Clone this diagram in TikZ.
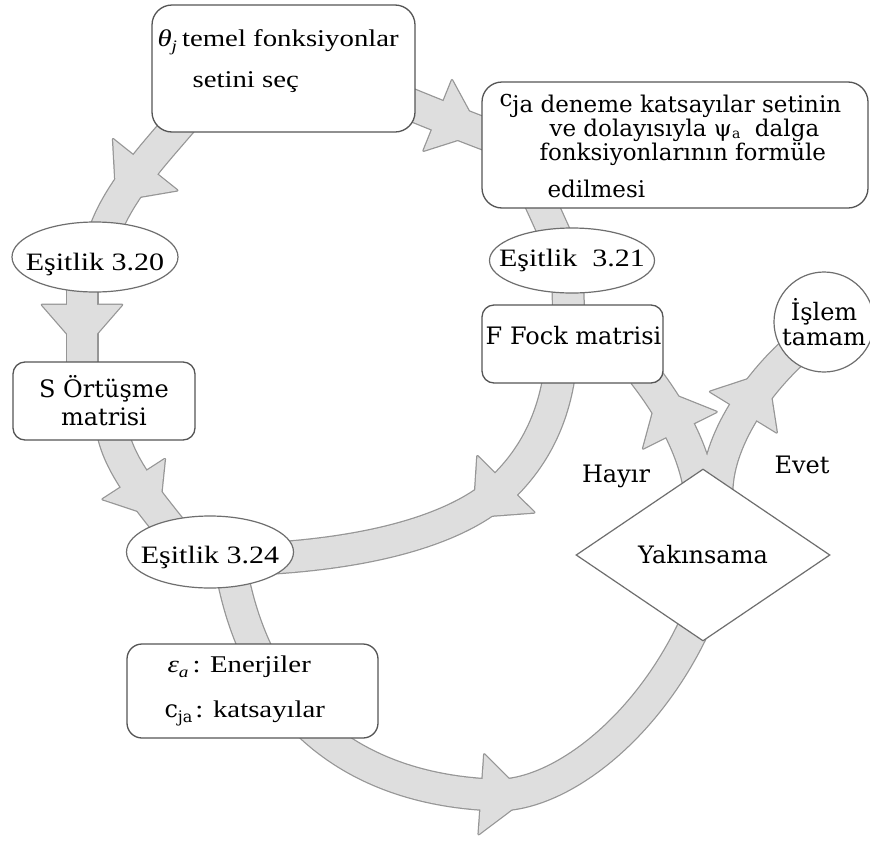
\documentclass[tikz,border=0pt]{standalone}
\usepackage{fontspec}
\setmainfont{Liberation Serif}
\newfontfamily\tnr[FakeStretch=1.2]{Liberation Serif}
\newfontfamily\slab{DejaVu Serif}
\usetikzlibrary{calc,shapes.geometric,backgrounds,decorations.markings}
\definecolor{bandfill}{RGB}{222,222,222}
\definecolor{bandedge}{RGB}{150,150,150}
\definecolor{boxedge}{RGB}{85,85,85}
\definecolor{shapeedge}{RGB}{110,110,110}
\newcommand\lowsub[1]{\raisebox{-5pt}{\fontsize{16}{16}\selectfont #1}}
\newcommand\highsub[1]{\raisebox{-2pt}{\fontsize{14}{14}\selectfont #1}}
\newcommand\bands[2]{%
  % b1 -> e20
  \draw[#1, ahead={0.45}{#2}{41pt}] ($(b1.south west)+(38,-20)$) .. controls (160,148) and (118,190) .. ($(e20.north)+(8,15)$);
  % e20 -> sb
  \draw[#1, ahead={0.24}{#2}{40pt}] ($(e20.south)+(-13,-12)$) -- ($(sb.north)+(-22,20)$);
  % sb -> e24
  \draw[#1, ahead={0.42}{#2}{37pt}] ($(sb.south)+(8,-12)$) .. controls (118,465) and (148,500) .. ($(e24)+(-30,-12)$);
  % fb -> e24
  \draw[#1, ahead={0.30}{#2}{40pt}] ($(fb.south)+(-13,-10)$) .. controls (552,425) and (530,462) .. (500,490) .. controls (472,516) and (400,556) .. ($(e24)+(20,8)$);
  % e24 -> dm
  \draw[#1, ahead={0.54}{#2}{40pt}] ($(e24.south)+(22,-15)$) .. controls (260,720) and (360,790) .. (495,795) .. controls (560,797) and (655,725) .. ($(dm.south)+(0,-35)$);
  % dm -> fb (Hayir)
  \draw[#1, ahead={0.47}{#2}{41pt}] ($(dm.north)+(-4,18)$) .. controls (692,445) and (668,405) .. ($(fb.south east)+(-20,-10)$);
  % dm -> ci (Evet)
  \draw[#1, ahead={0.5}{#2}{39pt}] ($(dm.north)+(14,26)$) .. controls (716,440) and (760,380) .. ($(ci.south west)+(12,-12)$);
  % b1 -> b2
  \draw[#1, ahead={0.4}{#2}{38pt}] ($(b1.east)+(-20,30)$) .. controls (420,108) and (460,125) .. ($(b2.west)+(20,-5)$);
  % b2 -> e21
  \draw[#1] ($(b2.south west)+(55,-15)$) .. controls (545,212) and (552,228) .. ($(e21.north)+(-12,18)$);
  % e21 -> fb
  \draw[#1] ($(e21.south)+(-4,-12)$) -- ($(fb.north)+(-4,15)$);
}
\begin{document}
\begin{tikzpicture}[x=1pt, y=-1pt,
  box/.style={draw=boxedge, line width=1.3pt, fill=white, rounded corners=#1, inner sep=0pt},
  box/.default=12pt,
  ell/.style={ellipse, draw=shapeedge, line width=1.2pt, fill=white, inner sep=0pt, font=\tnr\fontsize{25}{28}\selectfont},
  tt/.style={font=\tnr\fontsize{24}{28}\selectfont, inner sep=0pt},
  st/.style={font=\slab\fontsize{24}{28}\selectfont, inner sep=0pt},
  stc/.style={font=\slab\fontsize{23}{26}\selectfont, inner sep=0pt},
  bandout/.style={draw=bandedge, line width=33pt},
  bandin/.style={draw=bandfill, line width=30.5pt},
  headout/.style={fill=bandedge, draw=bandedge, line width=2.5pt, line join=round},
  headin/.style={fill=bandfill},
  ahead/.style n args={3}{decoration={markings, mark=at position #1 with {\path[#2] (0pt,-#3) -- (46pt,0pt) -- (0pt,#3) -- cycle;}}, postaction={decorate}}
]
\useasboundingbox (0,0) rectangle (870,841);
% shapes
\node[box=20pt, minimum width=263pt, minimum height=127pt] (b1) at (283.5,68.5) {};
\node[box=20pt, minimum width=386pt, minimum height=126pt] (b2) at (675,145) {};
\node[ell, minimum width=166pt, minimum height=70pt, text height=26pt, text depth=0pt] (e20) at (95,257) {\makebox[0pt]{Eşitlik 3.20}};
\node[box, st, minimum width=182pt, minimum height=78pt, align=center] (sb) at (104,401) {S Örtüşme\\matrisi};
\node[ell, minimum width=165pt, minimum height=65pt, text height=12pt, text depth=0pt] (e21) at (572,260.5) {\makebox[0pt]{Eşitlik\ \ 3.21}};
\node[box, minimum width=181pt, minimum height=78pt] (fb) at (572.5,344) {};
\node[circle, draw=shapeedge, line width=1.2pt, fill=white, inner sep=0pt, minimum size=100pt, align=center, font=\slab\fontsize{24}{25}\selectfont] (ci) at (824,322) {İşlem\\tamam};
\node[diamond, draw=shapeedge, line width=1.2pt, fill=white, inner sep=0pt, minimum width=254pt, minimum height=172pt, st] (dm) at (703,555) {\makebox[0pt]{Yakınsama}};
\node[ell, minimum width=167pt, minimum height=72pt, text height=22pt, text depth=0pt] (e24) at (210,552) {\makebox[0pt]{Eşitlik 3.24}};
\node[box=15pt, minimum width=251pt, minimum height=94pt] (eb) at (252.5,691) {};
% texts
\node[tt, anchor=base west] (b1a) at ($(b1.north west)+(6,42)$) {{\itshape θ\lowsub{j}}\hspace{5pt}temel fonksiyonlar};
\node[tt, anchor=base west] (b1b) at ($(b1.north west)+(41,83)$) {setini seç};
\node[stc, anchor=base west] (b2a) at ($(b2.north west)+(18,31)$) {\raisebox{6pt}{c}ja deneme katsayılar setinin};
\node[stc, anchor=base west] (b2b) at ($(b2.north west)+(68,55)$) {ve dolayısıyla ψ\highsub{a}\ \ dalga};
\node[stc, anchor=base west] (b2c) at ($(b2.north west)+(58,79)$) {fonksiyonlarının formüle};
\node[stc, anchor=base west] (b2d) at ($(b2.north west)+(66,116)$) {edilmesi};
\node[st, anchor=base] (fbt) at ($(fb.north)+(1,40)$) {F Fock matrisi};
\node[tt, anchor=base west] (eba) at ($(eb.north west)+(41,29)$) {{\itshape ε\lowsub{a}}\hspace{4pt}: Enerjiler};
\node[tt, anchor=base west] (ebb) at ($(eb.north west)+(38,74)$) {{\slab c\lowsub{ja}}\hspace{3pt}: katsayılar};
\node[st, anchor=base] (hay) at (616,482) {Hayır};
\node[st, anchor=base] (evt) at (802,473) {Evet};
% bands
\begin{scope}[on background layer]
  \fill[white] (0,0) rectangle (870,841);
  \bands{bandout}{headout}
  \bands{bandin}{headin}
\end{scope}
\end{tikzpicture}
\end{document}
